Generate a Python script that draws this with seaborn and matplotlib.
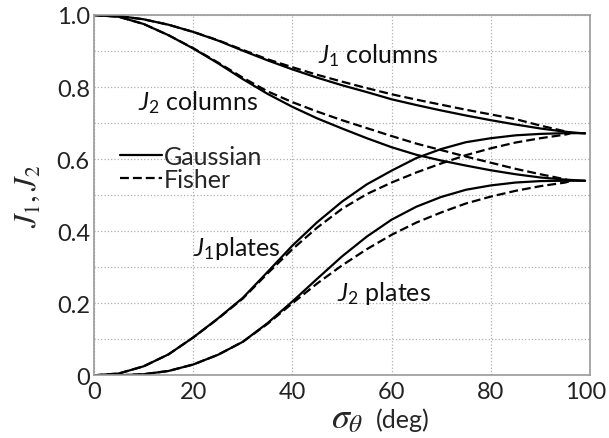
import matplotlib
matplotlib.use("Agg")
import matplotlib.pyplot as plt
import seaborn as sns
import pandas as pd
from matplotlib.lines import Line2D
from matplotlib.transforms import ScaledTranslation

# ---- data ----
sigma_gauss = [0, 5, 10, 15, 20, 25, 30, 35, 40, 45, 50, 55, 60, 65, 70, 75, 80, 85, 90, 95, 99]
sigma_fisher = [0, 5, 10, 15, 20, 25, 30, 35, 40, 45, 50, 55, 60, 65, 70, 75, 80, 85, 90, 95, 96]

j1_columns_gauss = [1.000, 0.997, 0.988, 0.973, 0.953, 0.929, 0.901, 0.874, 0.849, 0.826, 0.805,
                    0.786, 0.766, 0.750, 0.735, 0.721, 0.708, 0.696, 0.685, 0.676, 0.671]
j1_columns_fisher = [1.000, 0.997, 0.988, 0.973, 0.953, 0.930, 0.903, 0.877, 0.855, 0.834, 0.815,
                     0.797, 0.780, 0.765, 0.751, 0.737, 0.724, 0.711, 0.693, 0.677, 0.672]
j2_columns_gauss = [1.000, 0.995, 0.975, 0.944, 0.907, 0.866, 0.822, 0.781, 0.745, 0.713, 0.685,
                    0.658, 0.633, 0.612, 0.596, 0.582, 0.569, 0.558, 0.549, 0.543, 0.540]
j2_columns_fisher = [1.000, 0.995, 0.975, 0.944, 0.908, 0.868, 0.826, 0.788, 0.758, 0.732, 0.708,
                     0.686, 0.664, 0.643, 0.625, 0.607, 0.590, 0.573, 0.558, 0.544, 0.540]
j1_plates_gauss = [0.000, 0.005, 0.025, 0.058, 0.105, 0.158, 0.215, 0.287, 0.360, 0.425, 0.482,
                   0.530, 0.568, 0.603, 0.628, 0.647, 0.658, 0.666, 0.670, 0.672, 0.672]
j1_plates_fisher = [0.000, 0.005, 0.025, 0.058, 0.105, 0.157, 0.213, 0.283, 0.350, 0.410, 0.462,
                    0.503, 0.535, 0.563, 0.588, 0.611, 0.630, 0.646, 0.658, 0.668, 0.671]
j2_plates_gauss = [0.000, 0.000, 0.003, 0.012, 0.030, 0.057, 0.093, 0.145, 0.205, 0.268, 0.330,
                   0.385, 0.432, 0.468, 0.495, 0.515, 0.527, 0.535, 0.539, 0.540, 0.540]
j2_plates_fisher = [0.000, 0.000, 0.003, 0.012, 0.030, 0.057, 0.093, 0.143, 0.200, 0.255, 0.305,
                    0.350, 0.390, 0.424, 0.452, 0.477, 0.496, 0.512, 0.525, 0.535, 0.539]

x_ticks = [0, 20, 40, 60, 80, 100]
y_ticks = [0, 0.2, 0.4, 0.6, 0.8, 1.0]
y_tick_labels = ["0", "0.2", "0.4", "0.6", "0.8", "1.0"]

labels = [
    (r"$J_1$ columns", 45.2, 0.89),
    (r"$J_2$ columns", 8.9, 0.76),
    (r"$J_1$plates", 20.0, 0.356),
    (r"$J_2$ plates", 49.0, 0.23),
]

# ---- long-form table ----
frames = []
for name, g, f in [("J1c", j1_columns_gauss, j1_columns_fisher),
                   ("J2c", j2_columns_gauss, j2_columns_fisher),
                   ("J1p", j1_plates_gauss, j1_plates_fisher),
                   ("J2p", j2_plates_gauss, j2_plates_fisher)]:
    frames.append(pd.DataFrame({"sigma": sigma_gauss, "J": g, "model": "Gaussian", "curve": name + "g"}))
    frames.append(pd.DataFrame({"sigma": sigma_fisher, "J": f, "model": "Fisher", "curve": name + "f"}))
df = pd.concat(frames, ignore_index=True)

sns.set_style("white")
plt.rcParams["font.family"] = ["Lato", "DejaVu Sans"]
plt.rcParams["mathtext.fontset"] = "custom"
plt.rcParams["mathtext.rm"] = "Lato"
plt.rcParams["mathtext.it"] = "Lato:italic"

fig = plt.figure(figsize=(6.09, 4.39), dpi=100)
ax = fig.add_axes([0.1544, 0.1428, 0.8144, 0.8208])

DASH = (4, 1.8)
sns.lineplot(data=df, x="sigma", y="J", style="model", units="curve", estimator=None,
             dashes={"Gaussian": "", "Fisher": DASH}, color="black", linewidth=1.6,
             legend=False, ax=ax, sort=False)

FS = 18
ax.set_xlim(0, 100)
ax.set_ylim(0, 1.0)
ax.set_xticks(x_ticks)
ax.set_xticklabels([str(t) for t in x_ticks])
ax.set_yticks(y_ticks)
ax.set_yticklabels(y_tick_labels)
ax.set_yticks([0.1, 0.3, 0.5, 0.7, 0.9], minor=True)
ax.tick_params(axis="both", which="both", length=0, labelsize=17, colors="#222222")
ax.tick_params(axis="y", pad=3)
ax.tick_params(axis="x", pad=4)
# keep the last x label inside the canvas
last = ax.get_xticklabels()[-1]
last.set_transform(last.get_transform() + ScaledTranslation(-4 / 100, 0, fig.dpi_scale_trans))
ax.grid(True, which="both", color="#b0b0b0", linestyle=":", linewidth=0.9)
for s in ax.spines.values():
    s.set_color("#999999")
    s.set_linewidth(1.2)
    s.set_visible(True)
ax.set_xlabel("")
ax.set_ylabel("")

for txt, x, y in labels:
    ax.text(x, y, txt, fontsize=FS, va="center", ha="left", color="#111111")

handles = [Line2D([], [], color="black", linewidth=1.6, linestyle="-"),
           Line2D([], [], color="black", linewidth=1.6, dashes=DASH)]
ax.legend(handles, ["Gaussian", "Fisher"], loc="upper left", bbox_to_anchor=(0.052, 0.64),
          frameon=False, fontsize=FS, handlelength=1.7, handletextpad=0.05,
          labelspacing=0.0, borderpad=0, borderaxespad=0)

fig.text(28 / 609, 0.553, r"$J_1, J_2$", rotation=90, fontsize=22, va="center", ha="center",
         math_fontfamily="stix")
fig.text(0.597, 0.025, r"$\sigma_\theta$", fontsize=26, ha="right", va="baseline",
         math_fontfamily="stix")
fig.text(0.618, 0.025, "(deg)", fontsize=FS, ha="left", va="baseline")

fig.savefig("out.png", dpi=100)
